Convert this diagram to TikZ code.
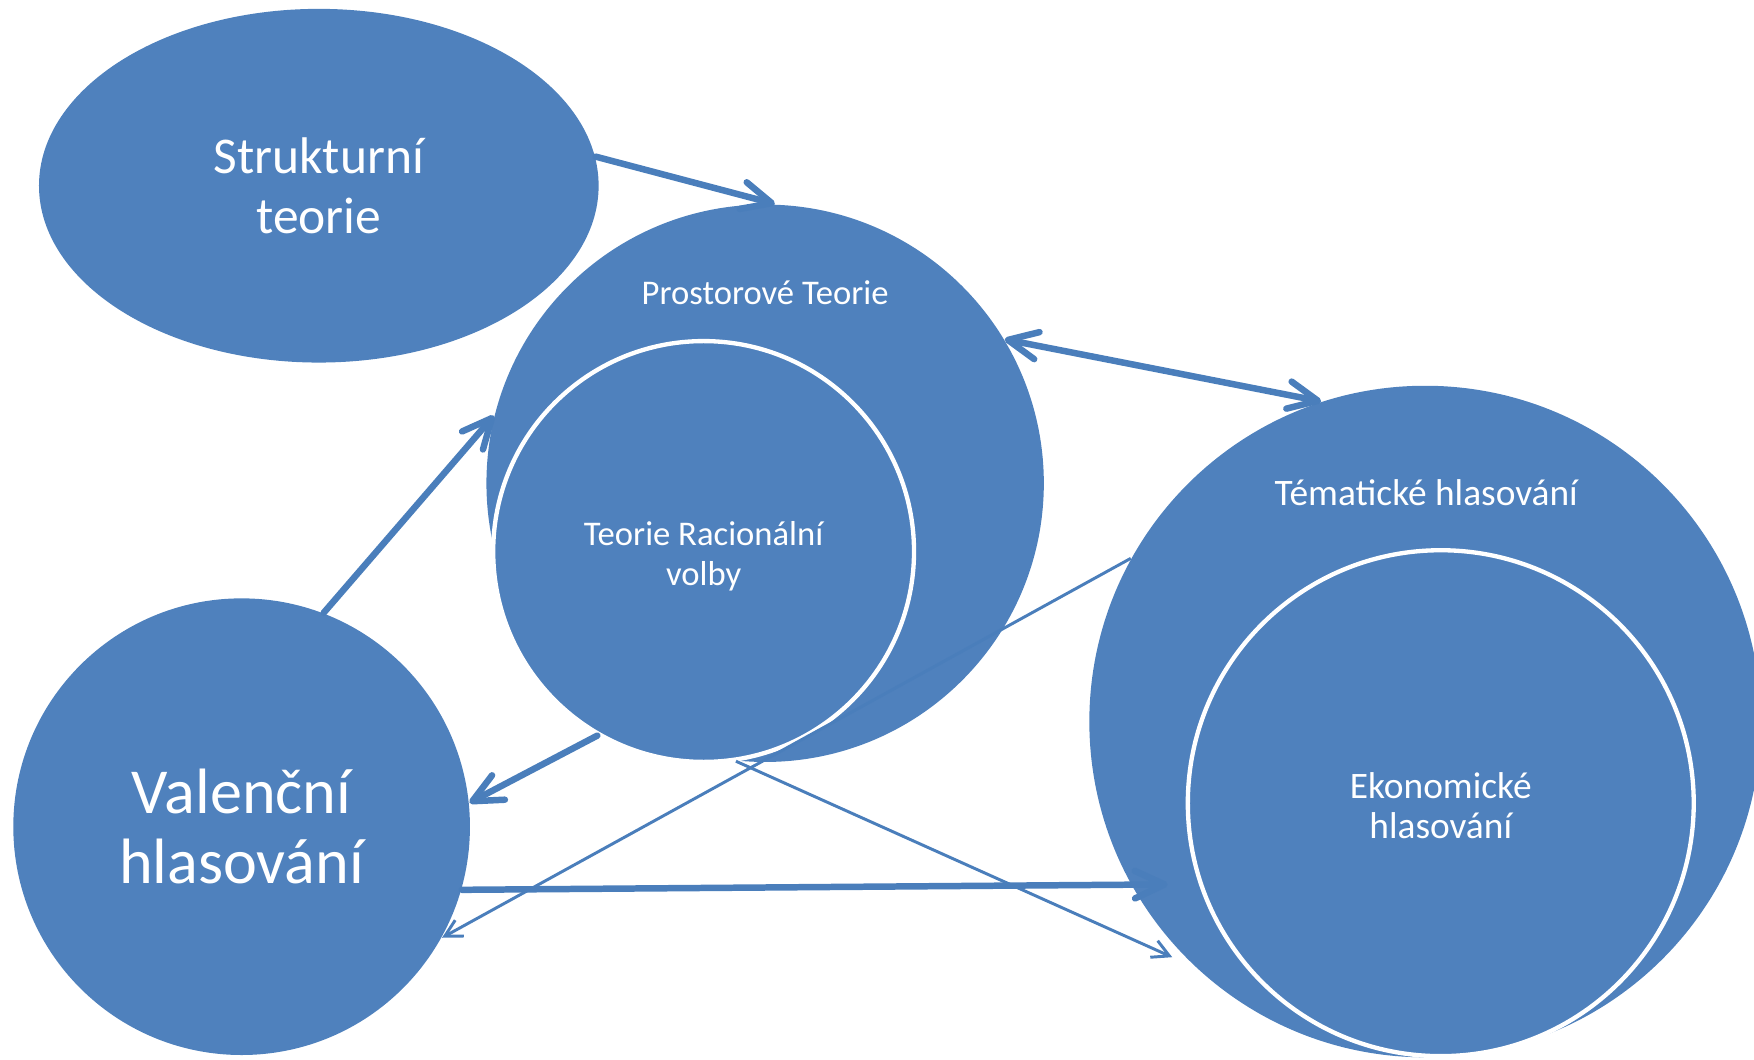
\documentclass[tikz,border=0pt]{standalone}
\usepackage{fontspec}
\setmainfont{Carlito}
\usepackage{tikz}
\usetikzlibrary{arrows.meta}
\usetikzlibrary{shapes.geometric}

\definecolor{officeblue}{HTML}{4F81BD}
\definecolor{linkblue}{HTML}{4A7EBB}

\begin{document}
\begin{tikzpicture}[x=0.01cm, y=-0.01cm,
    blob/.style={fill=officeblue, text=white, inner sep=0pt, align=center},
    innerblob/.style={blob, circle, draw=white, line width=1.1pt},
    lbl/.style={text=white, inner sep=0pt, align=center},
    bigarrow/.style={draw=linkblue, line width=1.65pt, line cap=round,
        >={Straight Barb[length=7.5pt, width=7pt, round]}},
    thinarrow/.style={draw=linkblue, line width=0.75pt,
        >={Straight Barb[length=4.3pt, width=4.6pt]}}]
    \useasboundingbox (0, 0) rectangle (1568, 947);
    % theories
    \node[blob, ellipse, minimum width=5cm, minimum height=3.16cm,
        font=\fontsize{13.1}{15.2}\selectfont] (strukt) at (285, 166) {Strukturní\\teorie};
    \node[blob, circle, minimum size=4.98cm] (prostor) at (684, 432) {};
    \node[lbl, font=\fontsize{8.8}{10.2}\selectfont] (prostorlbl) at (684, 262) {Prostorové Teorie};
    \node[innerblob, minimum size=3.76cm] (racion) at (629, 493) {};
    \node[lbl, font=\fontsize{8.8}{10.2}\selectfont] (racionlbl) at (629, 497) {Teorie Racionální\\volby};
    \node[blob, circle, minimum size=4.08cm,
        font=\fontsize{16.3}{17.9}\selectfont] (valence) at (216, 739) {Valenční\\hlasování};
    \node[blob, circle, minimum size=6cm] (tema) at (1274, 645) {};
    \node[lbl, font=\fontsize{9.5}{10.5}\selectfont] (temalbl) at (1275, 440) {Tématické hlasování};
    \node[innerblob, minimum size=4.52cm] (ekon) at (1288, 718) {};
    \node[lbl, font=\fontsize{9.5}{10.3}\selectfont] (ekonlbl) at (1288, 720) {Ekonomické\\hlasování};
    % links
    \draw[bigarrow, ->] (strukt.6) -- (prostor.88);
    \draw[bigarrow, <->] (prostor.31) -- (tema.108);
    \draw[bigarrow, ->] (valence.69) -- (prostor.166);
    \draw[bigarrow, ->] (racion.240) -- (valence.6);
    \draw[bigarrow, ->, shorten >=-0.33cm] (valence.-16) -- (tema.209);
    \draw[thinarrow, ->] (tema.151) -- (valence.-29);
    \draw[thinarrow, ->, shorten >=6.5pt] (prostor.-96) -- (tema.227);
\end{tikzpicture}
\end{document}
